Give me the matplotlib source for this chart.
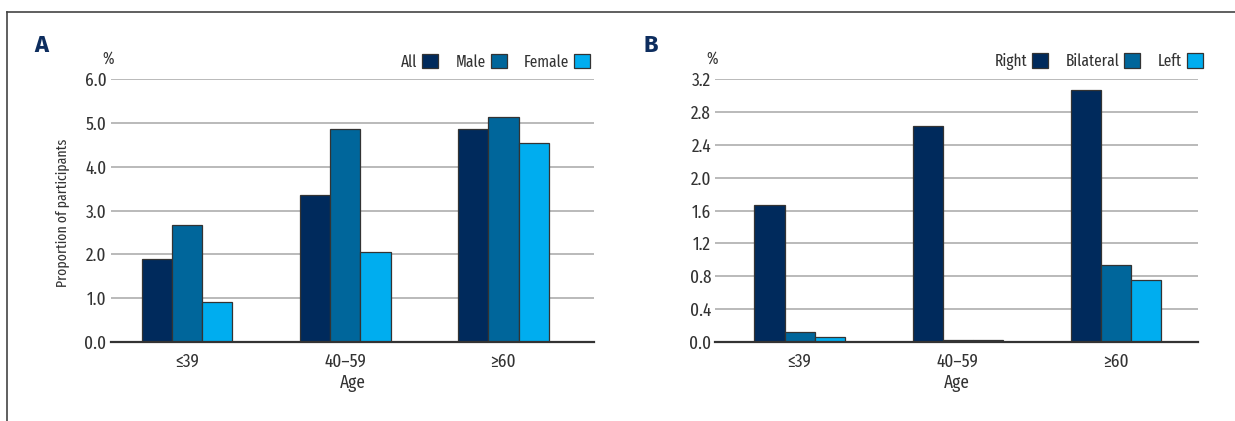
"""
Two grouped bar panels: proportion of participants by age group
"""
import matplotlib
matplotlib.use('Agg')
import matplotlib.pyplot as plt
from matplotlib.lines import Line2D
import numpy as np

plt.rcParams['font.family'] = ['Fira Sans Extra Condensed', 'DejaVu Sans']

ages = ['≤39', '40–59', '≥60']

# panel A
sex_labels = ['All', 'Male', 'Female']
all_vals = [1.90, 3.36, 4.85]
male_vals = [2.66, 4.87, 5.14]
female_vals = [0.92, 2.05, 4.55]

# panel B
side_labels = ['Right', 'Bilateral', 'Left']
right_vals = [1.67, 2.63, 3.07]
bilateral_vals = [0.125, 0.03, 0.94]
left_vals = [0.057, 0.02, 0.75]

colors = ['#002a5c', '#00669b', '#00adef']
ink = '#333333'
grid = '#b4b4b4'
fs = 13.5
leg_fs = 12


def draw_panel(ax, series, labels, ymax, step, xlim, leg_x):
    x = np.arange(len(ages))
    w = 0.191
    for i, (vals, lab) in enumerate(zip(series, labels)):
        ax.bar(x + (i - 1) * w, vals, w, color=colors[i], edgecolor=ink,
               linewidth=0.9, label=lab, zorder=3)
    ax.set_xlim(*xlim)
    ax.set_ylim(0, ymax)
    ticks = np.arange(0, ymax + step / 2, step)
    ax.set_yticks(ticks)
    ax.set_yticklabels([f"{v:.1f}" for v in ticks])
    ax.set_xticks(x)
    ax.set_xticklabels(ages)
    ax.yaxis.grid(True, color=grid, linewidth=1.3, zorder=0)
    for s in ['top', 'right', 'left']:
        ax.spines[s].set_visible(False)
    ax.spines['bottom'].set_color(ink)
    ax.spines['bottom'].set_linewidth(1.6)
    ax.spines['bottom'].set_zorder(4)
    ax.tick_params(axis='both', length=0, labelsize=fs, colors=ink)
    ax.tick_params(axis='y', pad=3)
    ax.tick_params(axis='x', pad=8)
    ax.set_xlabel('Age', fontsize=fs, color=ink, labelpad=2)
    ax.text(-0.006, 1.076, '%', transform=ax.transAxes, ha='center', va='center',
            fontsize=12, color=ink)
    leg = ax.legend(ncol=3, markerfirst=False, loc='center right',
                    bbox_to_anchor=(leg_x, 1.065), frameon=False, borderpad=0,
                    borderaxespad=0, handlelength=0.96, handleheight=0.96,
                    handletextpad=0.3, columnspacing=1.05, fontsize=leg_fs)
    for t in leg.get_texts():
        t.set_color(ink)


fig = plt.figure(figsize=(12.35, 4.21), dpi=100)

axA = fig.add_axes([110.7 / 1235, 0.1876, 483.6 / 1235, 0.6247])
draw_panel(axA, [all_vals, male_vals, female_vals], sex_labels, 6.0, 1.0,
           (-0.482, 2.574), 0.992)
axA.set_ylabel('Proportion of participants', fontsize=10.8, color=ink)
axA.yaxis.set_label_coords(-0.086, 0.49)

axB = fig.add_axes([715.3 / 1235, 0.1876, 483.1 / 1235, 0.6247])
draw_panel(axB, [right_vals, bilateral_vals, left_vals], side_labels, 3.2, 0.4,
           (-0.533, 2.52), 1.0095)

fig.text(34.8 / 1235, 1 - 45 / 421, 'A', fontsize=17, fontweight='bold',
         color='#0d2d5e', family=['Fira Sans', 'DejaVu Sans'], va='center')
fig.text(643.5 / 1235, 1 - 45 / 421, 'B', fontsize=17, fontweight='bold',
         color='#0d2d5e', family=['Fira Sans', 'DejaVu Sans'], va='center')

# frame lines (top and left)
fig.add_artist(Line2D([7 / 1235, 1], [1 - 12 / 421, 1 - 12 / 421],
                      transform=fig.transFigure, color='#444444', linewidth=1.2))
fig.add_artist(Line2D([7 / 1235, 7 / 1235], [0, 1 - 12 / 421],
                      transform=fig.transFigure, color='#444444', linewidth=1.2))

fig.savefig('out.png', dpi=100)
